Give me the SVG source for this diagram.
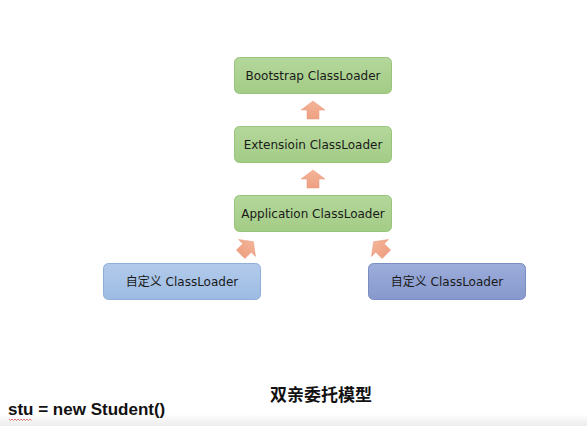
<svg xmlns="http://www.w3.org/2000/svg" width="587" height="426" viewBox="0 0 587 426">
<defs>
<linearGradient id="gG" x1="0" y1="0" x2="0" y2="1"><stop offset="0" stop-color="#b4d79b"/><stop offset="1" stop-color="#a3cc86"/></linearGradient>
<linearGradient id="gB" x1="0" y1="0" x2="0" y2="1"><stop offset="0" stop-color="#b2cbeb"/><stop offset="1" stop-color="#9dbbe2"/></linearGradient>
<linearGradient id="gP" x1="0" y1="0" x2="0" y2="1"><stop offset="0" stop-color="#9caddb"/><stop offset="1" stop-color="#8799cc"/></linearGradient>
<linearGradient id="gA" x1="0" y1="0" x2="0" y2="1"><stop offset="0" stop-color="#f3b497"/><stop offset="1" stop-color="#eea082"/></linearGradient>
<linearGradient id="gBot" x1="0" y1="0" x2="0" y2="1"><stop offset="0" stop-color="#ffffff"/><stop offset="1" stop-color="#ececec"/></linearGradient>
<path id="arr" d="M0,-9 L12,0 L6,0 L6,9 L-6,9 L-6,0 L-12,0 Z"/>
</defs>
<style>
.g{fill:url(#gG);stroke:#98c47c;stroke-width:1}
.b{fill:url(#gB);stroke:#8eaedb;stroke-width:1}
.p{fill:url(#gP);stroke:#7a8cc2;stroke-width:1}
.t{font-family:"DejaVu Sans","Noto Sans CJK SC",sans-serif;font-size:12px;fill:#1a1a1a;text-anchor:middle}
.a{fill:url(#gA);stroke:#e8977a;stroke-width:0.5}
</style>
<rect x="0" y="0" width="587" height="426" fill="#ffffff"/>
<rect x="0" y="414" width="587" height="12" fill="url(#gBot)"/>
<g id="bootstrap"><rect class="g" x="234.5" y="57.5" width="157" height="36" rx="5"/><text class="t" x="313" y="80">Bootstrap ClassLoader</text></g>
<g id="extension"><rect class="g" x="234.5" y="126.5" width="157" height="36" rx="5"/><text class="t" x="313" y="149">Extensioin ClassLoader</text></g>
<g id="application"><rect class="g" x="234.5" y="195.5" width="157" height="36" rx="5"/><text class="t" x="313" y="218">Application ClassLoader</text></g>
<g id="custom1"><rect class="b" x="103.5" y="263.5" width="157" height="36" rx="5"/><text class="t" x="182" y="286">自定义 ClassLoader</text></g>
<g id="custom2"><rect class="p" x="368.5" y="263.5" width="157" height="36" rx="5"/><text class="t" x="447" y="286">自定义 ClassLoader</text></g>
<g id="connectors">
<use href="#arr" class="a" transform="translate(313,110)"/>
<use href="#arr" class="a" transform="translate(313,179)"/>
<use href="#arr" class="a" transform="translate(247,248) rotate(45)"/>
<use href="#arr" class="a" transform="translate(380,248) rotate(-45)"/>
</g>
<text x="321" y="401" font-family="'Noto Sans CJK SC',sans-serif" font-size="17" font-weight="bold" fill="#111" text-anchor="middle">双亲委托模型</text>
<text x="8" y="415" font-family="'Liberation Sans',Arial,sans-serif" font-size="17" font-weight="bold" fill="#111">stu = new Student()</text>
<path d="M9,419 l1.5,1.5 l1.5,-1.5 l1.5,1.5 l1.5,-1.5 l1.5,1.5 l1.5,-1.5 l1.5,1.5 l1.5,-1.5 l1.5,1.5 l1.5,-1.5 l1.5,1.5 l1.5,-1.5 l1.5,1.5 l1.5,-1.5 l1.5,1.5" fill="none" stroke="#d9534f" stroke-width="0.8"/>
</svg>
